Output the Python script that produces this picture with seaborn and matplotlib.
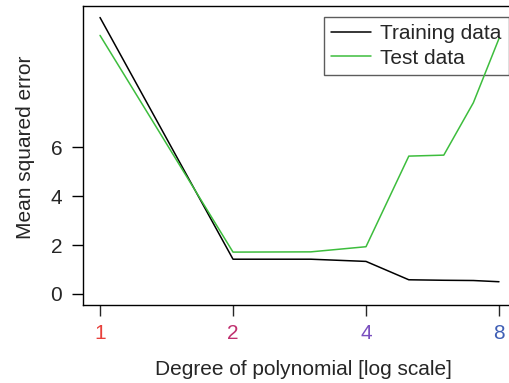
import pandas as pd
import numpy as np
import matplotlib
matplotlib.use('Agg')
import matplotlib.pyplot as plt
import seaborn as sns

# data
degree = [1, 2, 3, 4, 5, 6, 7, 8]
train_mse = [11.29, 1.42, 1.42, 1.33, 0.58, 0.56, 0.55, 0.50]
test_mse = [10.56, 1.71, 1.72, 1.93, 5.63, 5.67, 7.81, 10.43]
xtick_vals = [1, 2, 4, 8]
xtick_colors = ['#E8413C', '#C0306F', '#7A4FBF', '#3F5FB5']
yticks = [0, 2, 4, 6]

df = pd.DataFrame({
    'degree': degree * 2,
    'mse': train_mse + test_mse,
    'series': ['Training data'] * len(degree) + ['Test data'] * len(degree),
})

sns.set_style('white')
plt.rcParams['font.family'] = ['Liberation Sans', 'DejaVu Sans']

fig = plt.figure(figsize=(5.09, 3.83), dpi=100)
ax = fig.add_axes([83 / 509, 78 / 383, 433 / 509, 299 / 383])

sns.lineplot(data=df, x='degree', y='mse', hue='series',
             palette={'Training data': 'black', 'Test data': '#3DBD3D'},
             linewidth=1.1, ax=ax, zorder=3)

ax.set_xscale('log', base=2)
ax.set_xlim(2 ** -0.128, 2 ** 3.128)
ax.set_ylim(-0.45, 11.76)

ax.set_xticks(xtick_vals)
ax.set_xticklabels([str(v) for v in xtick_vals])
ax.xaxis.set_minor_locator(matplotlib.ticker.NullLocator())
ax.set_yticks(yticks)
ax.tick_params(axis='both', direction='out', length=8, width=1, labelsize=15,
               bottom=True, left=True)
ax.tick_params(axis='y', pad=7, color='black')
ax.tick_params(axis='x', pad=6)
for tick, c in zip(ax.xaxis.get_major_ticks(), xtick_colors):
    tick.tick1line.set_color(c)
    tick.label1.set_color(c)

for s in ax.spines.values():
    s.set_color('black')
    s.set_linewidth(1)

ax.set_xlabel('Degree of polynomial [log scale]', fontsize=15)
ax.set_ylabel('Mean squared error', fontsize=15)
ax.xaxis.set_label_coords(0.51, -0.183)
ax.yaxis.set_label_coords(-0.111, 0.527)

leg = ax.legend(loc='upper left', bbox_to_anchor=(0.557, 0.963), fontsize=15,
                frameon=True, fancybox=False, borderaxespad=0, borderpad=0.35,
                handlelength=1.9, handletextpad=0.45, labelspacing=0.25)
leg.get_frame().set_edgecolor('#333333')
leg.get_frame().set_facecolor('none')
leg.get_frame().set_linewidth(1)
leg.set_zorder(1)

fig.savefig('out.png', dpi=100)
